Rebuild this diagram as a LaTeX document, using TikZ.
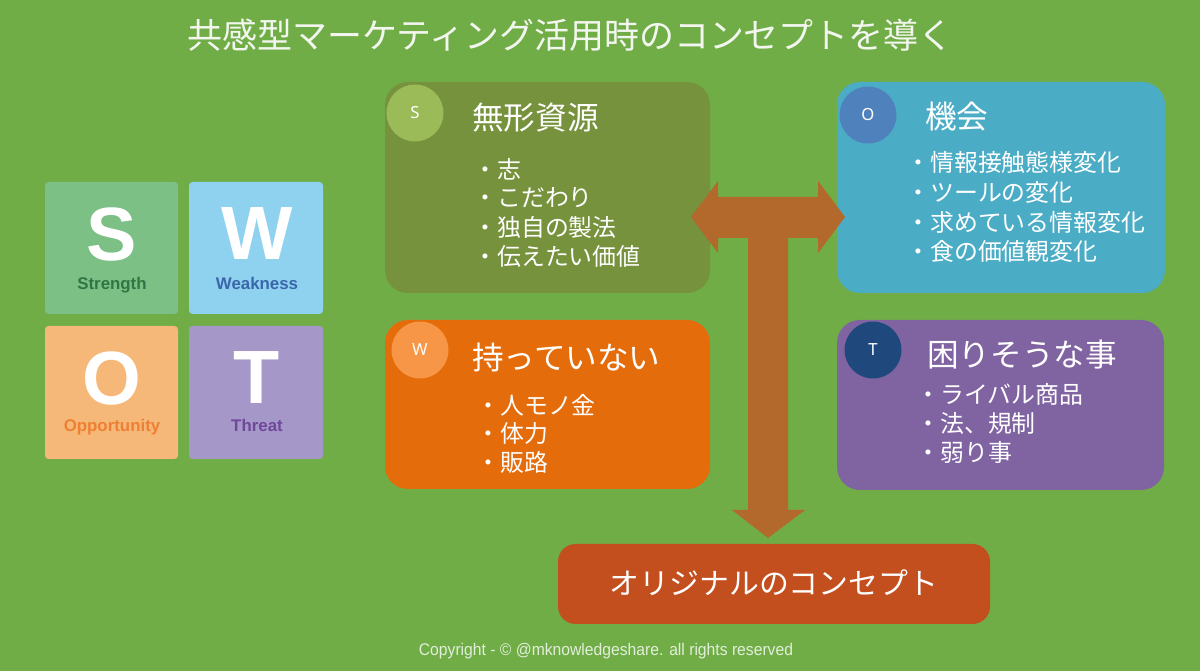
\documentclass[tikz,border=0pt]{standalone}
\usepackage{fontspec}
\usepackage{xcolor}
\usepackage{tikz}
\setmainfont{Noto Sans CJK JP}
\newfontfamily\jpfont{Noto Sans CJK JP}
\newfontfamily\tilefont{Liberation Sans}
\newfontfamily\badgefont{Noto Sans}
\newfontfamily\cpfont[FakeStretch=0.93]{Liberation Sans}

\definecolor{bggreen}{RGB}{112,173,71}
\definecolor{titletext}{RGB}{242,246,238}
\definecolor{boxS}{RGB}{118,146,60}
\definecolor{badgeS}{RGB}{155,187,89}
\definecolor{boxO}{RGB}{75,172,198}
\definecolor{badgeO}{RGB}{79,129,189}
\definecolor{boxW}{RGB}{228,108,10}
\definecolor{badgeW}{RGB}{247,150,70}
\definecolor{boxT}{RGB}{128,100,162}
\definecolor{badgeT}{RGB}{31,73,125}
\definecolor{arrowbrown}{RGB}{178,105,43}
\definecolor{conceptred}{RGB}{195,78,30}
\definecolor{tileS}{RGB}{124,192,134}
\definecolor{tileW}{RGB}{142,210,240}
\definecolor{tileO}{RGB}{246,184,120}
\definecolor{tileT}{RGB}{166,151,201}
\definecolor{labS}{RGB}{48,118,68}
\definecolor{labW}{RGB}{58,102,170}
\definecolor{labO}{RGB}{238,128,52}
\definecolor{labT}{RGB}{112,72,154}
\definecolor{cptext}{RGB}{226,238,218}

\begin{document}
\begin{tikzpicture}[x=0.02cm,y=-0.02cm,
  panel/.style={rounded corners=13pt},
  tile/.style={rounded corners=2pt},
  badge/.style={circle,inner sep=0pt,minimum size=1.14cm,text=white,font=\badgefont\fontsize{9.5pt}{10pt}\selectfont},
  head/.style={anchor=west,inner sep=0pt,text=white,font=\jpfont\fontsize{18pt}{20pt}\selectfont},
  item/.style={anchor=west,inner sep=0pt,text=white,font=\jpfont\fontsize{13.6pt}{16pt}\selectfont},
  letter/.style={inner sep=0pt,text=white,font=\tilefont\bfseries\fontsize{43pt}{43pt}\selectfont},
  caption/.style={anchor=base,inner sep=0pt,font=\tilefont\bfseries\fontsize{9.6pt}{10pt}\selectfont}]
\fill[bggreen] (0,0) rectangle (1200,671);
\useasboundingbox (0,0) rectangle (1200,671);
\node[anchor=west,inner sep=0pt,text=titletext,font=\jpfont\fontsize{19.9pt}{22pt}\selectfont] (title) at (187,35) {共感型マーケティング活用時のコンセプトを導く};
\fill[tile,tileS] (45,182) rectangle (178,314);
\fill[tile,tileW] (189,182) rectangle (323,314);
\fill[tile,tileO] (45,326) rectangle (178,459);
\fill[tile,tileT] (189,326) rectangle (323,459);
\node[letter] (sLetter) at (112,234) {S};
\node[letter] (wLetter) at (257,234) {W};
\node[letter] (oLetter) at (112,378) {O};
\node[letter] (tLetter) at (257,378) {T};
\node[caption,text=labS] (sCaption) at (112,290) {Strength};
\node[caption,text=labW] (wCaption) at (257,290) {Weakness};
\node[caption,text=labO] (oCaption) at (112,432) {Opportunity};
\node[caption,text=labT] (tCaption) at (257,432) {Threat};
\fill[panel,boxS] (385,82) rectangle (710,293);
\fill[panel,boxO] (837,82) rectangle (1165,293);
\fill[panel,boxW] (385,320) rectangle (710,489);
\fill[panel,boxT] (837,320) rectangle (1164,490);
\fill[arrowbrown] (691,217) -- (718,181) -- (718,197) -- (818,197) -- (818,181) -- (845,217) -- (818,253) -- (818,238) -- (788,238) -- (788,510) -- (805,510) -- (768,538) -- (732,510) -- (748,510) -- (748,238) -- (718,238) -- (718,253) -- cycle;
\node[badge,fill=badgeS] (sBadge) at (415,113) {S};
\node[badge,fill=badgeO] (oBadge) at (868,115) {O};
\node[badge,fill=badgeW] (wBadge) at (420,350) {W};
\node[badge,fill=badgeT] (tBadge) at (873,350) {T};
\node[head] (sHead) at (472,118) {無形資源};
\node[item] (sItemA) at (473,169) {・志};
\node[item] (sItemB) at (473,198) {・こだわり};
\node[item] (sItemC) at (473,227) {・独自の製法};
\node[item] (sItemD) at (473,256) {・伝えたい価値};
\node[head] (oHead) at (925,117) {機会};
\node[item] (oItemA) at (906,162) {・情報接触態様変化};
\node[item] (oItemB) at (906,192) {・ツールの変化};
\node[item] (oItemC) at (906,222) {・求めている情報変化};
\node[item] (oItemD) at (906,251) {・食の価値観変化};
\node[head] (wHead) at (472,357) {持っていない};
\node[item] (wItemA) at (476,405) {・人モノ金};
\node[item] (wItemB) at (476,433) {・体力};
\node[item] (wItemC) at (476,462) {・販路};
\node[head] (tHead) at (927,355) {困りそうな事};
\node[item] (tItemA) at (916,394) {・ライバル商品};
\node[item] (tItemB) at (916,423) {・法、規制};
\node[item] (tItemC) at (916,452) {・弱り事};
\fill[panel,rounded corners=10pt,conceptred] (558,544) rectangle (990,624);
\node[inner sep=0pt,text=white,font=\jpfont\fontsize{17pt}{20pt}\selectfont] (concept) at (774,583) {オリジナルのコンセプト};
\node[inner sep=0pt,text=cptext,font=\cpfont\fontsize{9.6pt}{11pt}\selectfont] (copyright) at (606,651) {Copyright - © @mknowledgeshare. all rights reserved};
\end{tikzpicture}
\end{document}
